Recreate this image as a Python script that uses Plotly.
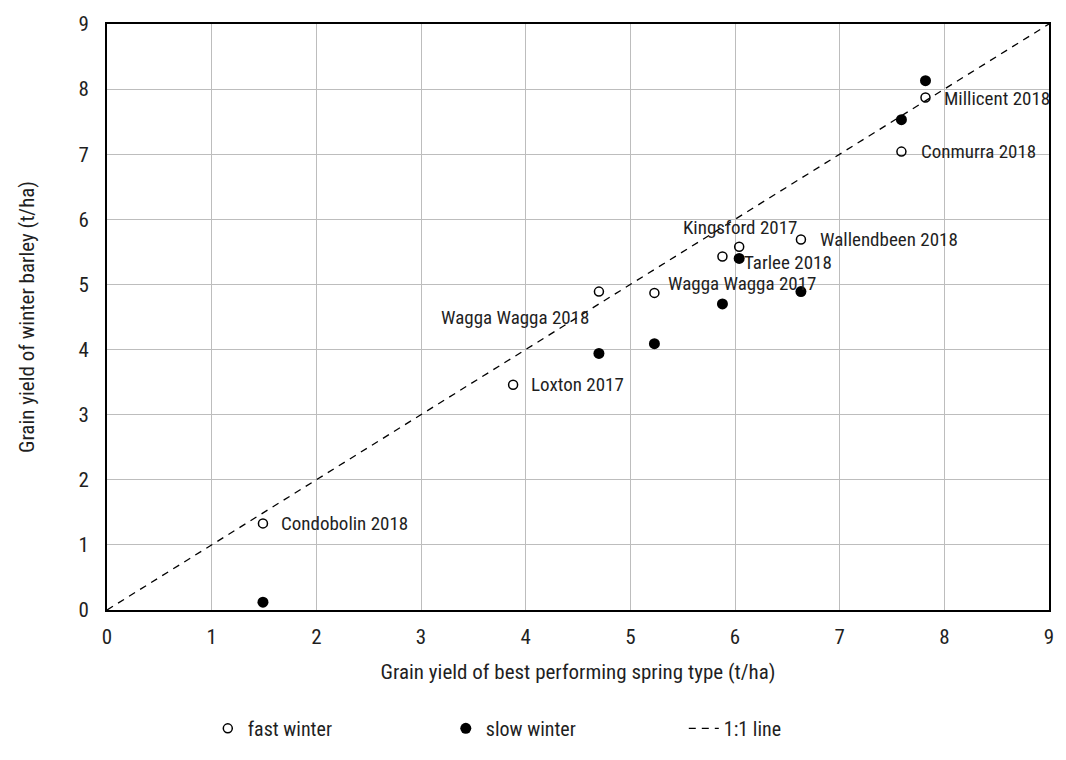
import plotly.graph_objects as go

# Trial sites: yield of the best spring type (x) against winter barley (y), t/ha
sites = ["Condobolin 2018", "Loxton 2017", "Wagga Wagga 2018", "Wagga Wagga 2017",
         "Tarlee 2018", "Kingsford 2017", "Wallendbeen 2018", "Conmurra 2018",
         "Millicent 2018"]
spring_best = [1.49, 3.88, 4.70, 5.23, 5.88, 6.04, 6.63, 7.59, 7.82]
fast_winter = [1.33, 3.46, 4.89, 4.87, 5.43, 5.58, 5.69, 7.04, 7.87]
slow_winter = [0.12, None, 3.94, 4.09, 4.70, 5.40, 4.89, 7.53, 8.13]

axis_ticks = list(range(0, 10))

FONT = "Roboto Condensed, 'DejaVu Sans Condensed', sans-serif"
TEXT = "#1f1f1f"

fig = go.Figure()

fig.add_trace(go.Scatter(
    x=[axis_ticks[0], axis_ticks[-1]], y=[axis_ticks[0], axis_ticks[-1]],
    mode="lines", name="1:1 line",
    line=dict(color="black", width=1.3, dash="7px,6px"),
    legendrank=3,
))
fig.add_trace(go.Scatter(
    x=spring_best, y=fast_winter, mode="markers", name="fast winter",
    marker=dict(symbol="circle-open", size=9, color="black", line=dict(width=1.5)),
    legendrank=1,
))
fig.add_trace(go.Scatter(
    x=spring_best, y=slow_winter, mode="markers", name="slow winter",
    marker=dict(symbol="circle", size=11, color="black"),
    legendrank=2,
))

# Site labels sit beside the fast-winter points: (anchor, dx px, dy px)
label_offsets = {
    "Condobolin 2018": ("left", 16, 0),
    "Loxton 2017": ("left", 16, 0),
    "Wagga Wagga 2018": ("right", -8, -26),
    "Wagga Wagga 2017": ("left", 12, 9),
    "Tarlee 2018": ("left", 20, -6),
    "Kingsford 2017": ("center", 1, 19),
    "Wallendbeen 2018": ("left", 17, 0),
    "Conmurra 2018": ("left", 18, 0),
    "Millicent 2018": ("left", 17, -1),
}
for name, x, y in zip(sites, spring_best, fast_winter):
    anchor, dx, dy = label_offsets[name]
    fig.add_annotation(x=x, y=y, text=name, showarrow=False,
                       xanchor=anchor, yanchor="middle", xshift=dx, yshift=dy,
                       font=dict(family=FONT, size=19, color=TEXT))

axis_common = dict(
    range=[axis_ticks[0], axis_ticks[-1]], tickvals=axis_ticks,
    showgrid=True, gridcolor="#bdbdbd", gridwidth=1,
    showline=True, linecolor="black", linewidth=2, mirror=True,
    zeroline=False, ticks="",
    tickfont=dict(family=FONT, size=21, color=TEXT),
)

fig.update_xaxes(**axis_common, ticklabelstandoff=7,
                 title=dict(text="Grain yield of best performing spring type (t/ha)",
                            font=dict(family=FONT, size=21, color=TEXT), standoff=16))
fig.update_yaxes(**axis_common, ticklabelstandoff=12,
                 title=dict(text="Grain yield of winter barley (t/ha)",
                            font=dict(family=FONT, size=21, color=TEXT), standoff=38))

fig.update_layout(
    width=1066, height=760,
    margin=dict(l=107, r=15, t=21, b=134),
    plot_bgcolor="white", paper_bgcolor="white",
    font=dict(family=FONT, color=TEXT),
    legend=dict(orientation="h", x=0.107, xanchor="left", y=-0.202, yanchor="middle",
                entrywidth=193, entrywidthmode="pixels",
                font=dict(family=FONT, size=20, color=TEXT),
                bgcolor="rgba(0,0,0,0)", traceorder="normal"),
)

fig.write_html("out.html")
